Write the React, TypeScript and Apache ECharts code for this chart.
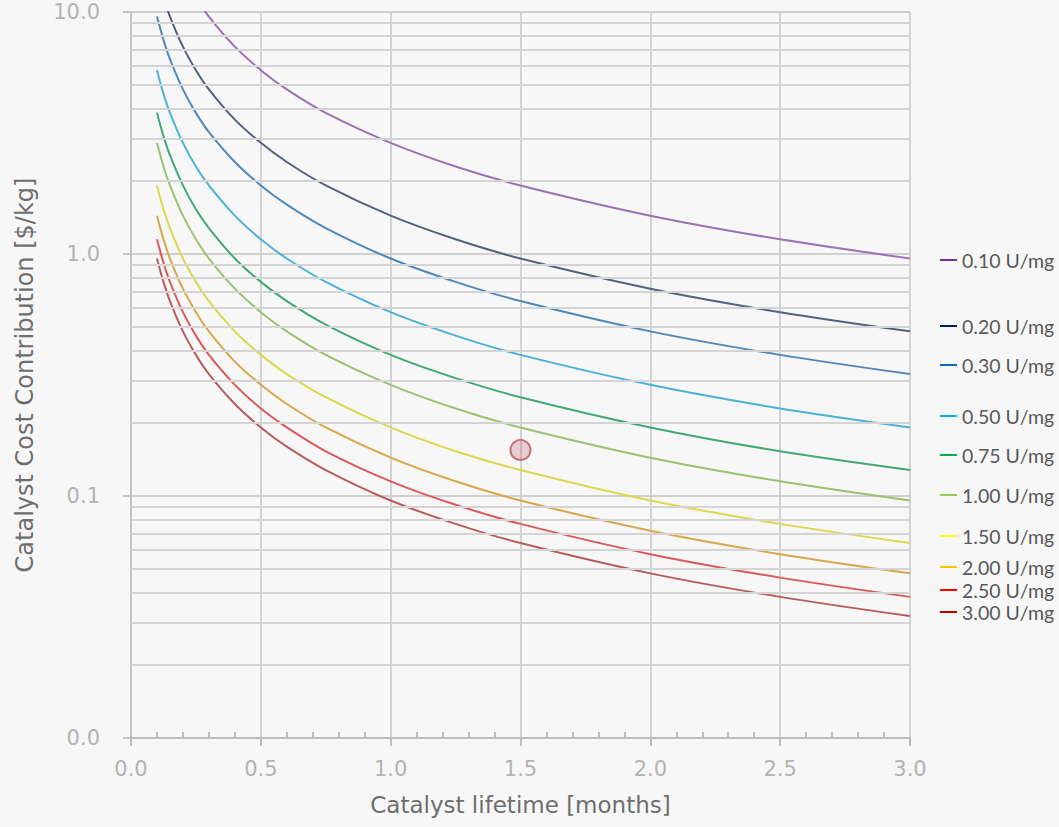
import React, { useEffect, useRef } from "react";
import * as echarts from "echarts";

// Catalyst lifetime [months]
const lifetimes = [0.1, 0.125, 0.15, 0.2, 0.25, 0.3, 0.4, 0.5, 0.6, 0.75, 1.0, 1.25, 1.5, 2.0, 2.5, 3.0];

// Catalyst cost contribution [$/kg] per activity level
const s010 = [28.8, 23.0, 19.2, 14.4, 11.5, 9.58, 7.19, 5.75, 4.79, 3.83, 2.88, 2.30, 1.92, 1.44, 1.15, 0.958];
const s020 = [14.4, 11.5, 9.58, 7.19, 5.75, 4.79, 3.59, 2.88, 2.40, 1.92, 1.44, 1.15, 0.958, 0.719, 0.575, 0.479];
const s030 = [9.58, 7.67, 6.39, 4.79, 3.83, 3.19, 2.40, 1.92, 1.60, 1.28, 0.958, 0.767, 0.639, 0.479, 0.383, 0.319];
const s050 = [5.75, 4.60, 3.83, 2.88, 2.30, 1.92, 1.44, 1.15, 0.958, 0.767, 0.575, 0.460, 0.383, 0.288, 0.230, 0.192];
const s075 = [3.83, 3.07, 2.56, 1.92, 1.53, 1.28, 0.958, 0.767, 0.639, 0.511, 0.383, 0.307, 0.256, 0.192, 0.153, 0.128];
const s100 = [2.88, 2.30, 1.92, 1.44, 1.15, 0.958, 0.719, 0.575, 0.479, 0.383, 0.288, 0.230, 0.192, 0.144, 0.115, 0.0958];
const s150 = [1.92, 1.53, 1.28, 0.958, 0.767, 0.639, 0.479, 0.383, 0.319, 0.256, 0.192, 0.153, 0.128, 0.0958, 0.0767, 0.0639];
const s200 = [1.44, 1.15, 0.958, 0.719, 0.575, 0.479, 0.359, 0.288, 0.240, 0.192, 0.144, 0.115, 0.0958, 0.0719, 0.0575, 0.0479];
const s250 = [1.15, 0.920, 0.767, 0.575, 0.460, 0.383, 0.288, 0.230, 0.192, 0.153, 0.115, 0.0920, 0.0767, 0.0575, 0.0460, 0.0383];
const s300 = [0.958, 0.767, 0.639, 0.479, 0.383, 0.319, 0.240, 0.192, 0.160, 0.128, 0.0958, 0.0767, 0.0639, 0.0479, 0.0383, 0.0319];

const seriesNames = ["0.10 U/mg", "0.20 U/mg", "0.30 U/mg", "0.50 U/mg", "0.75 U/mg", "1.00 U/mg", "1.50 U/mg", "2.00 U/mg", "2.50 U/mg", "3.00 U/mg"];
const seriesValues = [s010, s020, s030, s050, s075, s100, s150, s200, s250, s300];

// Highlighted point
const markerPoint = [1.5, 0.155];

// Axis ranges / ticks
const xMin = 0;
const xMax = 3.0;
const xInterval = 0.5;
const yMin = 0.01;
const yMax = 10;
const yMinorGrid = [0.02, 0.03, 0.04, 0.05, 0.06, 0.07, 0.08, 0.09, 0.2, 0.3, 0.4, 0.5, 0.6, 0.7, 0.8, 0.9, 2, 3, 4, 5, 6, 7, 8, 9];

// Styles
const lineColors = ["#9b72b6", "#56617f", "#4f88b9", "#4cb1d9", "#43a878", "#9ac270", "#d9d84e", "#d9a64a", "#d95a5a", "#b95c5c"];
const legendColors = ["#7030a0", "#002060", "#0070c0", "#00b0f0", "#00b050", "#92d050", "#ffff00", "#ffc000", "#ff0000", "#c00000"];
const legendCenters = [260, 326, 365, 416, 455, 495, 536, 567, 590, 612];

const axisFont = "DejaVu Sans";

export default function App() {
  const ref = useRef<HTMLDivElement>(null);

  useEffect(() => {
    if (!ref.current) return;
    const chart = echarts.init(ref.current, undefined, { renderer: "svg" });

    const lineSeries = seriesNames.map((name, i) => ({
      name,
      type: "line",
      data: lifetimes.map((x, j) => [x, seriesValues[i][j]]),
      showSymbol: false,
      symbol: "none",
      smooth: 0.3,
      clip: true,
      z: 3,
      lineStyle: { color: lineColors[i], width: 2 },
      itemStyle: { color: lineColors[i] },
    }));

    const legends = seriesNames.map((name, i) => ({
      data: [{ name, itemStyle: { color: legendColors[i] } }],
      left: 940,
      top: legendCenters[i] - 11,
      orient: "vertical",
      padding: 0,
      icon: "rect",
      itemWidth: 17,
      itemHeight: 2,
      selectedMode: false,
      textStyle: { fontFamily: "Lato", fontSize: 19.5, color: "#595959", lineHeight: 22 },
    }));

    chart.setOption({
      animation: false,
      backgroundColor: "#f7f7f7",
      grid: { left: 131, right: 149, top: 12, bottom: 89, containLabel: false },
      legend: legends,
      xAxis: {
        type: "value",
        min: xMin,
        max: xMax,
        interval: xInterval,
        name: "Catalyst lifetime [months]",
        nameLocation: "middle",
        nameGap: 55,
        nameTextStyle: { fontFamily: axisFont, fontSize: 23, color: "#6e6e6e" },
        axisLine: { show: true, lineStyle: { color: "#bdbdbd", width: 2 } },
        axisTick: { show: true, length: 8, lineStyle: { color: "#bdbdbd", width: 2 } },
        minorTick: { show: true, splitNumber: 5, length: -6, lineStyle: { color: "#bdbdbd", width: 2 } },
        axisLabel: {
          margin: 20,
          fontFamily: axisFont,
          fontSize: 21,
          color: "#b3b3b3",
          formatter: (v: number) => v.toFixed(1),
        },
        splitLine: { show: true, lineStyle: { color: "#c6c6c6", width: 1.5 } },
      },
      yAxis: {
        type: "log",
        logBase: 10,
        min: yMin,
        max: yMax,
        name: "Catalyst Cost Contribution [$/kg]",
        nameLocation: "middle",
        nameGap: 94,
        nameTextStyle: { fontFamily: axisFont, fontSize: 24, color: "#6e6e6e" },
        axisLine: { show: true, lineStyle: { color: "#c4c4c4", width: 2 } },
        axisTick: { show: true, length: 8, lineStyle: { color: "#c4c4c4", width: 2 } },
        axisLabel: {
          margin: 31,
          fontFamily: axisFont,
          fontSize: 21,
          color: "#b3b3b3",
          formatter: (v: number) => v.toFixed(1),
        },
        splitLine: { show: true, lineStyle: { color: "#cfcfcf", width: 2 } },
      },
      series: [
        {
          name: "minor-grid",
          type: "line",
          data: [],
          z: 1,
          silent: true,
          markLine: {
            silent: true,
            symbol: "none",
            label: { show: false },
            lineStyle: { color: "#d4d4d4", width: 2, type: "solid" },
            emphasis: { disabled: true },
            data: yMinorGrid.map((v) => ({ yAxis: v })),
          },
        },
        ...lineSeries,
        {
          name: "marker",
          type: "scatter",
          data: [markerPoint],
          symbolSize: 20,
          z: 5,
          itemStyle: { color: "rgba(192, 80, 95, 0.32)", borderColor: "#b75560", borderWidth: 2 },
        },
      ],
    });

    return () => chart.dispose();
  }, []);

  return (
    <div
      ref={ref}
      style={{ position: "fixed", left: 0, top: 0, width: 1059, height: 827 }}
    />
  );
}
